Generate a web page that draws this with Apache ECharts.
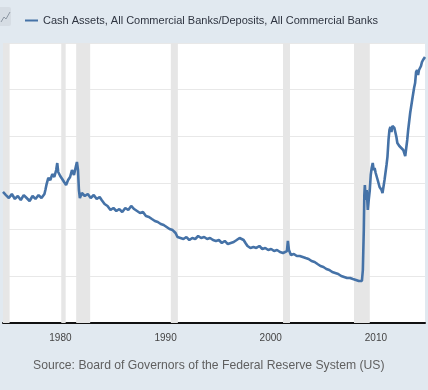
<!DOCTYPE html>
<html>
<head>
<meta charset="utf-8">
<script src="https://cdn.jsdelivr.net/npm/echarts@6/dist/echarts.min.js"></script>
<style>
html,body{margin:0;padding:0;background:#e1e9f0;}
#c{width:428px;height:390px;}
</style>
</head>
<body>
<div id="c"></div>
<script>
const seriesName = 'Cash Assets, All Commercial Banks/Deposits, All Commercial Banks';
const sourceText = 'Source: Board of Governors of the Federal Reserve System (US)';
const tickYears = [1980, 1990, 2000, 2010];

const years = [
1974.54,1974.82,1975.10,1975.38,1975.67,1975.95,1976.23,1976.51,1976.79,1977.07,
1977.35,1977.63,1977.92,1978.20,1978.48,1978.57,1978.67,1978.85,1979.04,1979.23,
1979.42,1979.60,1979.70,1979.79,1979.98,1980.17,1980.35,1980.54,1980.73,1980.92,
1981.10,1981.29,1981.48,1981.57,1981.67,1981.76,1981.85,1982.04,1982.32,1982.60,
1982.88,1983.17,1983.45,1983.73,1983.92,1984.20,1984.48,1984.76,1985.04,1985.32,
1985.60,1985.88,1986.17,1986.45,1986.73,1987.01,1987.29,1987.57,1987.85,1988.13,
1988.42,1988.70,1988.98,1989.26,1989.54,1989.82,1990.10,1990.38,1990.67,1990.95,
1991.13,1991.42,1991.70,1991.98,1992.26,1992.54,1992.82,1993.10,1993.38,1993.67,
1993.95,1994.23,1994.51,1994.79,1995.07,1995.35,1995.63,1995.92,1996.20,1996.48,
1996.76,1997.04,1997.23,1997.42,1997.60,1997.79,1998.07,1998.35,1998.63,1998.92,
1999.20,1999.48,1999.76,2000.04,2000.32,2000.60,2000.88,2001.17,2001.35,2001.54,
2001.63,2001.73,2001.92,2002.20,2002.48,2002.76,2003.04,2003.32,2003.60,2003.88,
2004.17,2004.45,2004.73,2005.01,2005.29,2005.57,2005.85,2006.13,2006.42,2006.70,
2006.98,2007.26,2007.54,2007.82,2008.10,2008.38,2008.57,2008.67,2008.76,2008.85,
2008.90,2008.95,2009.04,2009.13,2009.23,2009.32,2009.42,2009.51,2009.60,2009.70,
2009.79,2009.88,2009.98,2010.17,2010.35,2010.54,2010.63,2010.82,2011.01,2011.10,
2011.20,2011.29,2011.38,2011.48,2011.57,2011.76,2011.95,2012.04,2012.23,2012.42,
2012.60,2012.79,2012.88,2012.98,2013.07,2013.26,2013.45,2013.63,2013.73,2013.82,
2013.92,2014.01,2014.10,2014.20,2014.29,2014.38,2014.48,2014.57,2014.67
];
const ratio = [
14.04,13.71,13.39,13.82,13.29,13.61,13.18,13.71,13.39,13.07,
13.61,13.29,13.71,13.39,13.82,14.25,14.79,15.54,15.32,15.96,
15.64,16.39,17.14,16.18,15.75,15.43,15.11,14.79,15.32,15.64,
16.39,15.86,16.82,17.25,16.39,14.25,13.39,13.93,13.61,13.82,
13.39,13.71,13.29,13.50,13.18,12.75,12.54,12.11,12.32,12.00,
12.21,11.89,12.32,12.11,12.54,12.21,12.00,11.79,11.89,11.46,
11.36,11.14,10.93,10.82,10.61,10.50,10.29,10.07,9.96,9.64,
9.21,9.11,9.00,9.21,8.89,9.11,9.00,9.32,9.11,9.21,
9.00,9.11,8.89,8.79,8.89,8.57,8.79,8.46,8.57,8.68,
8.89,9.11,9.32,8.89,8.57,8.25,8.04,8.14,8.04,8.25,
7.93,8.04,7.82,7.93,7.71,7.82,7.61,7.50,7.29,7.71,
8.79,7.82,7.29,7.39,7.18,7.18,7.07,6.96,6.86,6.64,
6.54,6.32,6.11,6.00,5.79,5.68,5.46,5.36,5.25,5.04,
4.93,4.82,4.82,4.71,4.61,4.50,4.39,4.50,5.68,9.96,
13.71,14.79,13.18,14.25,12.11,13.18,14.25,15.86,16.61,17.14,
16.39,16.61,16.07,15.32,14.57,14.25,13.93,15.32,16.93,17.79,
19.61,20.68,21.00,20.46,21.11,20.89,19.93,19.29,18.96,18.75,
18.54,17.89,17.68,19.61,20.68,22.50,23.89,25.18,25.71,26.89,
27.11,26.57,27.11,27.32,27.54,27.96,28.18,28.39,28.50
];
const recessionStart = [1973.83, 1980.08, 1981.50, 1990.50, 2001.17, 2007.92];
const recessionEnd   = [1975.17, 1980.50, 1982.83, 1991.17, 2001.83, 2009.42];

const data = years.map((y, i) => [y, ratio[i]]);
const bands = recessionStart.map((s, i) => [{xAxis: s}, {xAxis: recessionEnd[i]}]);

const chart = echarts.init(document.getElementById('c'), null, {renderer: 'canvas'});
chart.setOption({
  backgroundColor: '#e1e9f0',
  animation: false,
  textStyle: {fontFamily: 'Liberation Sans, Arial, sans-serif'},
  title: {
    text: sourceText,
    left: 33,
    top: 360,
    padding: 0,
    textStyle: {fontSize: 12.2, fontWeight: 'normal', color: '#5f5f5f', fontFamily: 'Liberation Sans, Arial, sans-serif'}
  },
  legend: {
    left: 20,
    top: 10,
    itemWidth: 13,
    itemHeight: 2,
    itemGap: 5,
    icon: 'rect',
    textStyle: {fontSize: 11, color: '#2e3440', fontFamily: 'Liberation Sans, Arial, sans-serif'},
    data: [seriesName]
  },
  graphic: [
    {type: 'rect', left: -3, top: 7, shape: {width: 14, height: 19, r: 2}, style: {fill: '#d6dde4'}},
    {type: 'polyline', shape: {points: [[1, 22], [4, 17], [6, 19], [10, 12]]}, style: {stroke: '#8c97a3', lineWidth: 1, fill: null}}
  ],
  grid: {
    left: 0, right: 0, top: 43, bottom: 67,
    show: true, backgroundColor: '#ffffff', borderWidth: 0
  },
  xAxis: {
    type: 'value',
    min: 1974.54,
    max: 2014.67,
    splitNumber: 4,
    showMinLabel: false,
    showMaxLabel: false,
    axisLine: {show: true, lineStyle: {color: '#111', width: 2}},
    axisTick: {show: false},
    splitLine: {show: false},
    axisLabel: {
      fontSize: 10, color: '#444', margin: 10,
      formatter: v => tickYears.includes(Math.round(v)) && Math.abs(v - Math.round(v)) < 1e-6 ? String(Math.round(v)) : ''
    }
  },
  yAxis: {
    type: 'value',
    min: 0, max: 30, interval: 5,
    axisLabel: {show: false},
    axisLine: {show: false},
    axisTick: {show: false},
    splitLine: {lineStyle: {color: '#e8e8e8', width: 1}}
  },
  series: [{
    name: seriesName,
    type: 'line',
    data: data,
    showSymbol: false,
    symbol: 'none',
    color: '#4572a7',
    lineStyle: {color: '#4572a7', width: 2.6},
    markArea: {
      silent: true,
      itemStyle: {color: '#e6e6e6'},
      data: bands
    },
    z: 3
  }]
});
</script>
</body>
</html>
